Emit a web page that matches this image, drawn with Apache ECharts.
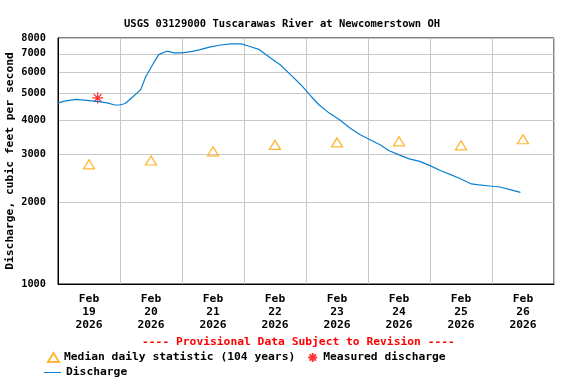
<!DOCTYPE html>
<html><head><meta charset="utf-8">
<script src="https://cdn.jsdelivr.net/npm/echarts@6/dist/echarts.min.js"></script>
<style>html,body{margin:0;padding:0;background:#fff}#c{width:576px;height:384px}</style>
</head><body><div id="c"></div>
<script>
// Discharge (sampled from the record) — times are "MM-DD HH:mm" in 2026
const dischargeTimes = ["02-19 00:00","02-19 03:00","02-19 07:00","02-19 11:00","02-19 15:00","02-19 19:00","02-19 22:00",
"02-20 00:00","02-20 02:00","02-20 05:00","02-20 08:00","02-20 10:00","02-20 13:00","02-20 15:00","02-20 18:00","02-20 19:00","02-20 21:00",
"02-21 00:00","02-21 04:00","02-21 07:00","02-21 11:00","02-21 15:00","02-21 19:00","02-21 23:00",
"02-22 02:00","02-22 06:00","02-22 10:00","02-22 14:00","02-22 18:00","02-22 22:00",
"02-23 02:00","02-23 05:00","02-23 09:00","02-23 13:00","02-23 17:00","02-23 21:00",
"02-24 01:00","02-24 05:00","02-24 08:00","02-24 12:00","02-24 16:00","02-24 20:00",
"02-25 00:00","02-25 04:00","02-25 08:00","02-25 12:00","02-25 16:00","02-25 19:00","02-25 23:00",
"02-26 03:00","02-26 07:00","02-26 11:00"];
const dischargeValues = [4620,4700,4760,4720,4680,4620,4540,
4540,4600,4870,5170,5780,6480,6950,7150,7130,7050,
7050,7150,7250,7420,7540,7610,7610,
7460,7250,6790,6380,5870,5390,
4880,4550,4240,4010,3740,3530,
3380,3230,3090,2980,2880,2820,
2720,2610,2520,2430,2330,2310,2290,
2270,2220,2170];
// Median daily statistic (104 years), plotted at noon
const medianDays = ["02-19 12:00","02-20 12:00","02-21 12:00","02-22 12:00","02-23 12:00","02-24 12:00","02-25 12:00","02-26 12:00"];
const medianValues = [2750,2840,3070,3240,3310,3340,3230,3400];
// Measured discharge
const measuredTimes = ["02-19 15:20"];
const measuredValues = [4820];
// Axis ticks
const yTickValues = [1000,2000,3000,4000,5000,6000,7000,8000];
const xDayStarts = ["02-19 00:00","02-20 00:00","02-21 00:00","02-22 00:00","02-23 00:00","02-24 00:00","02-25 00:00","02-26 00:00","02-27 00:00"];
const xLabelTimes = ["02-19 12:00","02-20 12:00","02-21 12:00","02-22 12:00","02-23 12:00","02-24 12:00","02-25 12:00","02-26 12:00"];
const xLabelText = ["Feb\n19\n2026","Feb\n20\n2026","Feb\n21\n2026","Feb\n22\n2026","Feb\n23\n2026","Feb\n24\n2026","Feb\n25\n2026","Feb\n26\n2026"];

const T0 = Date.UTC(2026, 1, 19, 0, 0);
function h(s){ // "MM-DD HH:mm" -> hours since Feb 19 00:00
  const [md, hm] = s.split(' ');
  const [mo, d] = md.split('-').map(Number);
  const [hh, mi] = hm.split(':').map(Number);
  return (Date.UTC(2026, mo - 1, d, hh, mi) - T0) / 3600000;
}
const FONT = '"DejaVu Sans Mono", monospace';
const TS = {fontFamily: FONT, fontSize: 11.3, fontWeight: 'bold', color: '#000'};
const TS_TITLE = {fontFamily: FONT, fontSize: 10.5, fontWeight: 'bold', color: '#000'};
const TS_Y = {fontFamily: FONT, fontSize: 10.3, fontWeight: 'bold', color: '#000'};
const chart = echarts.init(document.getElementById('c'), null, {renderer: 'canvas'});
const star = 'path://M5,0L5,10M0,5L10,5M1.5,1.5L8.5,8.5M8.5,1.5L1.5,8.5';
const labelPos = xLabelTimes.map(h);
chart.setOption({
  animation: false,
  backgroundColor: '#fff',
  title: {text: 'USGS 03129000 Tuscarawas River at Newcomerstown OH', left: 119, top: 14, textStyle: TS_TITLE},
  grid: {left: 58, right: 22, top: 38, bottom: 100, containLabel: false, outerBoundsMode: 'none',
    show: true, borderColor: '#000', borderWidth: 1, backgroundColor: 'transparent'},
  xAxis: {type: 'value', min: h(xDayStarts[0]), max: h(xDayStarts[xDayStarts.length-1]),
    axisLine: {show: true, lineStyle: {color: '#000'}},
    axisTick: {show: false, customValues: xDayStarts.map(h)},
    splitLine: {show: true, lineStyle: {color: '#c8c8c8', width: 1}},
    axisLabel: Object.assign({customValues: labelPos, interval: 0, margin: 8, lineHeight: 13.3,
      formatter: v => { const i = labelPos.indexOf(v); return i >= 0 ? xLabelText[i] : ''; }}, TS)
  },
  yAxis: {type: 'log', logBase: 10, min: 1000, max: 8000,
    name: 'Discharge, cubic feet per second', nameLocation: 'middle', nameGap: 42, nameRotate: 90,
    nameMoveOverlap: false, nameTextStyle: TS,
    axisLine: {show: true, lineStyle: {color: '#000'}},
    axisTick: {show: false, customValues: yTickValues},
    splitLine: {show: true, lineStyle: {color: '#c8c8c8', width: 1}},
    axisLabel: Object.assign({customValues: yTickValues, margin: 12, formatter: v => String(Math.round(v))}, TS_Y)
  },
  legend: [
    {left: 47, top: 352, itemGap: 12, itemWidth: 11, itemHeight: 9, padding: 0, textStyle: TS,
     data: [{name: 'Median daily statistic (104 years)'}, {name: 'Measured discharge'}]},
    {left: 44, top: 367, itemWidth: 17, itemHeight: 1, padding: 0, itemGap: 6, textStyle: TS,
     data: [{name: 'Discharge', icon: 'rect'}]}
  ],
  graphic: [{type: 'text', left: 142, top: 337,
    style: {text: '---- Provisional Data Subject to Revision ----', fill: '#ff0000', font: 'bold 11.3px ' + FONT}}],
  series: [
    {name: 'Discharge', type: 'line', showSymbol: false, symbol: 'none',
     lineStyle: {color: '#0a7fd0', width: 1.2}, itemStyle: {color: '#0a7fd0'},
     data: dischargeTimes.map((s, i) => [h(s), dischargeValues[i]])},
    {name: 'Median daily statistic (104 years)', type: 'scatter', symbol: 'triangle', symbolSize: [11, 9],
     itemStyle: {color: 'rgba(0,0,0,0)', borderColor: '#ffa500', borderWidth: 1.3},
     data: medianDays.map((s, i) => [h(s), medianValues[i]])},
    {name: 'Measured discharge', type: 'scatter', symbol: star, symbolSize: 11,
     itemStyle: {color: 'rgba(0,0,0,0)', borderColor: '#ff0000', borderWidth: 1.3},
     data: measuredTimes.map((s, i) => [h(s), measuredValues[i]])}
  ]
});
</script></body></html>
